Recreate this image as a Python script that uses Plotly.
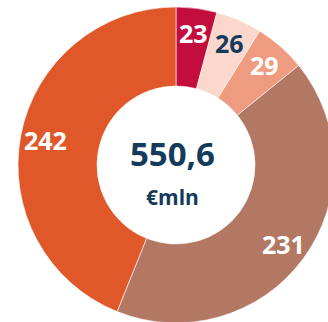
import math
import plotly.graph_objects as go

# Segment values (€ mln), clockwise from 12 o'clock
segments = ["A", "B", "C", "D", "E"]
values = [23, 26, 29, 231, 242]
colors = ["#C20D3E", "#FCD7CC", "#EE9B7F", "#B37863", "#E05829"]
label_colors = ["white", "#143A5C", "white", "white", "white"]
total_label = "550,6"
unit_label = "€mln"

NAVY = "#143A5C"
FONT = "Open Sans"

fig = go.Figure(
    go.Pie(
        labels=segments,
        values=values,
        hole=0.5,
        sort=False,
        direction="clockwise",
        rotation=0,
        marker=dict(colors=colors, line=dict(color="white", width=0.6)),
        textinfo="none",
        hoverinfo="skip",
        showlegend=False,
        domain=dict(x=[0, 1], y=[0, 1]),
    )
)

# Value labels placed at the angular middle of each slice
total = sum(values)
label_r = 0.421
cum = 0.0
annotations = []
for v, c in zip(values, label_colors):
    mid = (cum + v / 2) / total * 2 * math.pi
    cum += v
    annotations.append(
        dict(
            x=0.5 + label_r * math.sin(mid),
            y=0.5 + label_r * math.cos(mid),
            xref="paper", yref="paper",
            text=f"<b>{v}</b>",
            showarrow=False,
            font=dict(family=FONT, size=25, color=c),
            xanchor="center", yanchor="middle",
        )
    )

annotations.append(dict(
    x=0.49, y=0.535, xref="paper", yref="paper",
    text=f"<b>{total_label}</b>", showarrow=False,
    font=dict(family=FONT, size=33, color=NAVY),
    xanchor="center", yanchor="middle",
))
annotations.append(dict(
    x=0.49, y=0.40, xref="paper", yref="paper",
    text=f"<b>{unit_label}</b>", showarrow=False,
    font=dict(family=FONT, size=21, color=NAVY),
    xanchor="center", yanchor="middle",
))

fig.update_layout(
    width=334,
    height=323,
    margin=dict(l=18, r=0, t=7, b=0, pad=0),
    paper_bgcolor="white",
    plot_bgcolor="white",
    annotations=annotations,
)

fig.write_html(
    "out.html",
    config={"displayModeBar": False},
    post_script="document.body.style.overflow='hidden';document.documentElement.style.overflow='hidden';",
)
